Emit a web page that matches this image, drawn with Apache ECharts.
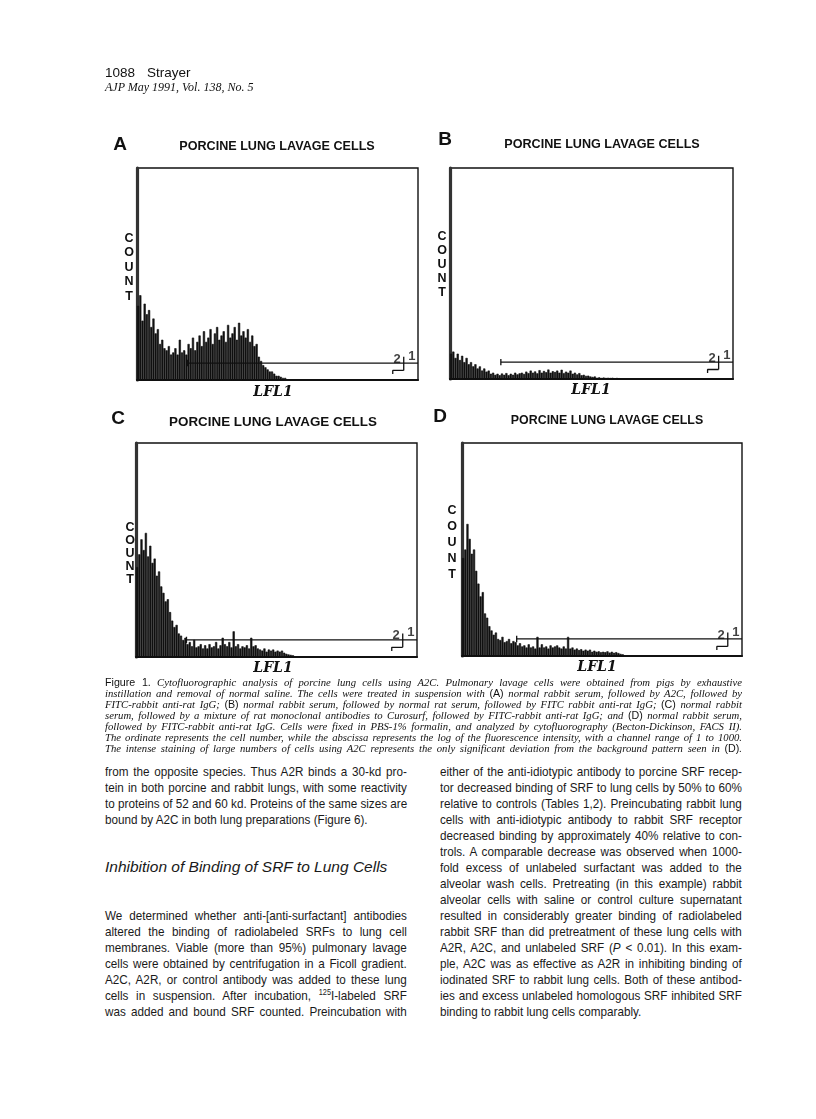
<!DOCTYPE html>
<html>
<head>
<meta charset="utf-8">
<script src="https://cdn.jsdelivr.net/npm/echarts@6/dist/echarts.min.js"></script>
<style>
  html, body { margin: 0; padding: 0; background: #fff; }
  #page { position: relative; width: 816px; height: 1119px; overflow: hidden; color: #111; }
  #chart { position: absolute; left: 0; top: 0; width: 816px; height: 680px; }
  .hd { position: absolute; font-family: "Liberation Sans", Arial, sans-serif; white-space: nowrap; }
  .cap { position: absolute; left: 105px; top: 677px; width: 637px;
         font-family: "Liberation Serif", "DejaVu Serif", serif; font-style: italic;
         font-size: 10.7px; line-height: 11px; }
  .cap div { white-space: nowrap; text-align: justify; text-align-last: justify; }
  .cap .s { font-family: "Liberation Sans", Arial, sans-serif; font-style: normal; }
  /* body columns: 302px wide, set in a compressed sans */
  .col { position: absolute; width: 351px; transform: scaleX(0.86); transform-origin: 0 0;
         font-family: "Liberation Sans", Arial, sans-serif; color: #1a1a1a;
         font-size: 13.6px; line-height: 16px; }
  .col div { white-space: nowrap; text-align: justify; text-align-last: justify; }
  .col div.end { text-align-last: left; }
  .head { position: absolute; font-family: "Liberation Sans", Arial, sans-serif; color: #1a1a1a;
          font-style: italic; font-size: 15.5px; white-space: nowrap; }
  .sup { font-size: 8.5px; vertical-align: 5px; line-height: 0; }
</style>
</head>
<body>
<div id="page">
  <div id="chart"></div>

  <div class="hd" style="left:105px;top:65px;font-size:13.5px;">1088</div>
  <div class="hd" style="left:147px;top:65px;font-size:13.5px;">Strayer</div>
  <div class="hd" style="left:105px;top:80px;font-size:12px;font-family:'Liberation Serif',serif;font-style:italic;">AJP May 1991, Vol. 138, No. 5</div>

  <div class="cap">
    <div><span class="s">Figure 1.</span> Cytofluorographic analysis of porcine lung cells using A2C. Pulmonary lavage cells were obtained from pigs by exhaustive</div>
    <div>instillation and removal of normal saline. The cells were treated in suspension with <span class="s">(A)</span> normal rabbit serum, followed by A2C, followed by</div>
    <div>FITC-rabbit anti-rat IgG; <span class="s">(B)</span> normal rabbit serum, followed by normal rat serum, followed by FITC rabbit anti-rat IgG; <span class="s">(C)</span> normal rabbit</div>
    <div>serum, followed by a mixture of rat monoclonal antibodies to Curosurf, followed by FITC-rabbit anti-rat IgG; and <span class="s">(D)</span> normal rabbit serum,</div>
    <div>followed by FITC-rabbit anti-rat IgG. Cells were fixed in PBS-1% formalin, and analyzed by cytofluorography (Becton-Dickinson, FACS II).</div>
    <div>The ordinate represents the cell number, while the abscissa represents the log of the fluorescence intensity, with a channel range of 1 to 1000.</div>
    <div>The intense staining of large numbers of cells using A2C represents the only significant deviation from the background pattern seen in <span class="s">(D)</span>.</div>
  </div>

  <div class="col" style="left:105px;top:764px;">
    <div>from the opposite species. Thus A2R binds a 30-kd pro-</div>
    <div>tein in both porcine and rabbit lungs, with some reactivity</div>
    <div>to proteins of 52 and 60 kd. Proteins of the same sizes are</div>
    <div class="end">bound by A2C in both lung preparations (Figure 6).</div>
  </div>

  <div class="head" style="left:105px;top:858px;">Inhibition of Binding of SRF to Lung Cells</div>

  <div class="col" style="left:105px;top:908px;">
    <div>We determined whether anti-[anti-surfactant] antibodies</div>
    <div>altered the binding of radiolabeled SRFs to lung cell</div>
    <div>membranes. Viable (more than 95%) pulmonary lavage</div>
    <div>cells were obtained by centrifugation in a Ficoll gradient.</div>
    <div>A2C, A2R, or control antibody was added to these lung</div>
    <div>cells in suspension. After incubation, <span class="sup">125</span>I-labeled SRF</div>
    <div>was added and bound SRF counted. Preincubation with</div>
  </div>

  <div class="col" style="left:440px;top:764px;">
    <div>either of the anti-idiotypic antibody to porcine SRF recep-</div>
    <div>tor decreased binding of SRF to lung cells by 50% to 60%</div>
    <div>relative to controls (Tables 1,2). Preincubating rabbit lung</div>
    <div>cells with anti-idiotypic antibody to rabbit SRF receptor</div>
    <div>decreased binding by approximately 40% relative to con-</div>
    <div>trols. A comparable decrease was observed when 1000-</div>
    <div>fold excess of unlabeled surfactant was added to the</div>
    <div>alveolar wash cells. Pretreating (in this example) rabbit</div>
    <div>alveolar cells with saline or control culture supernatant</div>
    <div>resulted in considerably greater binding of radiolabeled</div>
    <div>rabbit SRF than did pretreatment of these lung cells with</div>
    <div>A2R, A2C, and unlabeled SRF (<i>P</i> &lt; 0.01). In this exam-</div>
    <div>ple, A2C was as effective as A2R in inhibiting binding of</div>
    <div>iodinated SRF to rabbit lung cells. Both of these antibod-</div>
    <div>ies and excess unlabeled homologous SRF inhibited SRF</div>
    <div class="end">binding to rabbit lung cells comparably.</div>
  </div>
</div>

<script>
(function() {
  // cell counts per channel (128 log channels), in % of full scale
  var countsA = [35, 40, 28, 36, 31, 33, 25, 29, 22, 24, 17, 19, 15, 14, 16, 12,
                 13, 15, 12, 19, 13, 14, 12, 17, 15, 20, 14, 18, 21, 16, 23, 18,
                 20, 24, 17, 22, 25, 19, 21, 23, 18, 26, 20, 22, 25, 19, 27, 21,
                 23, 20, 24, 18, 21, 16, 17, 11, 9, 7, 6, 5, 4, 4, 3, 2,
                 2, 1.5, 1, 1];
  var countsB = [12, 13, 10, 12, 9, 11, 8, 10, 7, 8, 6, 7, 5, 6, 4, 5,
                 3.5, 4, 2.5, 3, 2, 2.5, 1.8, 2.6, 2, 2.8, 1.8, 2.5, 2, 3, 2.2, 2.7,
                 3, 2.4, 3.5, 2.8, 4, 3, 3.6, 2.7, 4.2, 3, 3.8, 3.2, 4.5, 3, 3.7, 3.3,
                 4, 3, 4.4, 2.8, 3.5, 3, 4, 2.5, 3, 2.2, 2.8, 1.8, 2, 1.5, 1.6, 1.2,
                 1, 1.2, 0.6, 0.8, 0.5, 0.7, 0.5, 0.6, 0.5, 0.6, 0.4, 0.5, 0.4];
  var countsC = [42, 48, 55, 50, 58, 47, 52, 44, 46, 38, 40, 33, 30, 26, 27, 21,
                 17, 14, 15, 11, 10, 8, 9, 6, 7, 5, 8, 4.5, 5, 6, 4, 5.5,
                 4, 6, 4.5, 5, 7, 4, 5.5, 9, 6, 5, 7, 4.5, 12, 5, 6, 4,
                 5, 4.5, 5.5, 4, 9, 5, 5.5, 4, 3.5, 3, 4, 2.5, 3.5, 3, 3.5, 2.5,
                 3, 2.5, 3, 2, 1.5, 1.2, 1, 0.8];
  var countsD = [46, 50, 62, 55, 48, 50, 40, 34, 28, 30, 20, 18, 14, 12, 10, 11,
                 8, 7.5, 9, 6.5, 7, 8, 6, 7, 6.5, 5, 6, 4.5, 5, 4, 5.5, 4,
                 4.5, 3.5, 9, 4, 5.5, 4, 4.5, 3.5, 5, 4, 4.5, 5, 4, 3.5, 4.5, 3.5,
                 9, 3.5, 4, 3, 3.5, 2.8, 3.2, 2.5, 3, 2.5, 3, 2, 2.5, 2, 2.2, 1.8,
                 2, 1.8, 2.2, 1.6, 2, 1.5, 1.8, 1.4, 1, 0.8];

  // analysis gates (channel, level)
  var gateStart = [23, 23, 23, 25];
  var gateEnd = 128;
  var gateLevel = 8;
  var marker1 = [[121.5, 4.5], [121.5, 11]];
  var marker2 = [[116.5, 2.8], [116.5, 4.5], [121.5, 4.5]];
  var markerLabels = [[118.5, 6.6, '2'], [125.2, 8.0, '1']];

  var panelNames = ['A', 'B', 'C', 'D'];
  var panelTitle = 'PORCINE LUNG LAVAGE CELLS';
  var allCounts = [countsA, countsB, countsC, countsD];

  var ink = '#111';
  var grids = [
    { left: 137, top: 168, width: 281, height: 212 },
    { left: 450, top: 168, width: 283, height: 211 },
    { left: 136, top: 443, width: 281, height: 214 },
    { left: 462, top: 443, width: 280, height: 213 }
  ];
  // text placement per panel
  var letterPos = [[120, 145], [445, 140], [118, 419], [440, 417]];
  var titlePos = [[277, 147, 12.6], [602, 145, 12.6], [273, 422, 13.4], [607, 421, 12.4]];
  var countPos = [[129, 231, 14.5], [442, 230, 14], [130, 521, 13], [452, 503, 16]];
  var lflPos = [[273, 392], [591, 390], [273, 668], [597, 667]];

  var chart = echarts.init(document.getElementById('chart'), null, { renderer: 'canvas' });

  var xAxes = [], yAxes = [], series = [], graphics = [];
  grids.forEach(function(g, i) {
    g.show = true;
    g.borderColor = ink;
    g.borderWidth = 1.4;
    g.backgroundColor = '#fff';
    xAxes.push({
      type: 'value', gridIndex: i, min: 0, max: gateEnd,
      axisLine: { show: true, onZero: false, lineStyle: { color: ink, width: 2 } },
      axisTick: { show: false }, axisLabel: { show: false }, splitLine: { show: false }
    });
    yAxes.push({
      type: 'value', gridIndex: i, min: 0, max: 100,
      axisLine: { show: true, lineStyle: { color: '#333', width: 3.2 } },
      axisTick: { show: false }, axisLabel: { show: false }, splitLine: { show: false }
    });

    var counts = allCounts[i];
    series.push({
      type: 'bar', xAxisIndex: i, yAxisIndex: i, silent: true,
      barWidth: '100%',
      itemStyle: { color: ink, borderColor: ink, borderWidth: 0.6 },
      data: counts.map(function(v, k) { return [k + 0.5, v]; })
    });
    var lineBase = {
      type: 'line', xAxisIndex: i, yAxisIndex: i, silent: true,
      symbol: 'none', lineStyle: { color: ink, width: 1.3 }, z: 5
    };
    series.push(Object.assign({}, lineBase, { data: [[gateStart[i], gateLevel], [gateEnd, gateLevel]] }));
    series.push(Object.assign({}, lineBase, { data: [[gateStart[i], gateLevel - 1.5], [gateStart[i], gateLevel + 1.5]] }));
    series.push(Object.assign({}, lineBase, { data: marker1 }));
    series.push(Object.assign({}, lineBase, { data: marker2 }));
    series.push({
      type: 'scatter', xAxisIndex: i, yAxisIndex: i, silent: true,
      symbolSize: 1, itemStyle: { color: 'rgba(0,0,0,0)' }, z: 6,
      data: markerLabels,
      label: {
        show: true, position: 'top', distance: 0,
        formatter: function(p) { return p.value[2]; },
        color: ink, fontSize: 13, fontWeight: 'bold',
        fontFamily: '"Liberation Sans", Arial, sans-serif'
      }
    });

    graphics.push({
      type: 'text', x: letterPos[i][0], y: letterPos[i][1],
      style: { text: panelNames[i], fill: ink, font: 'bold 19px "Liberation Sans", Arial, sans-serif',
               align: 'center', verticalAlign: 'middle' }
    });
    graphics.push({
      type: 'text', x: titlePos[i][0], y: titlePos[i][1],
      style: { text: panelTitle, fill: ink, font: 'bold ' + titlePos[i][2] + 'px "Liberation Sans", Arial, sans-serif',
               align: 'center', verticalAlign: 'middle' }
    });
    graphics.push({
      type: 'text', x: countPos[i][0], y: countPos[i][1],
      style: { text: 'C\nO\nU\nN\nT', fill: ink, font: 'bold 12.5px "Liberation Sans", Arial, sans-serif',
               lineHeight: countPos[i][2], align: 'center', verticalAlign: 'top' }
    });
    graphics.push({
      type: 'text', x: lflPos[i][0], y: lflPos[i][1],
      style: { text: 'LFL1', fill: ink, font: 'italic bold 14px "DejaVu Serif", "Liberation Serif", serif',
               align: 'center', verticalAlign: 'middle' }
    });
  });

  chart.setOption({
    animation: false,
    backgroundColor: '#fff',
    grid: grids,
    xAxis: xAxes,
    yAxis: yAxes,
    series: series,
    graphic: graphics
  });
  window.addEventListener('resize', function() { chart.resize(); });
})();
</script>
</body>
</html>
